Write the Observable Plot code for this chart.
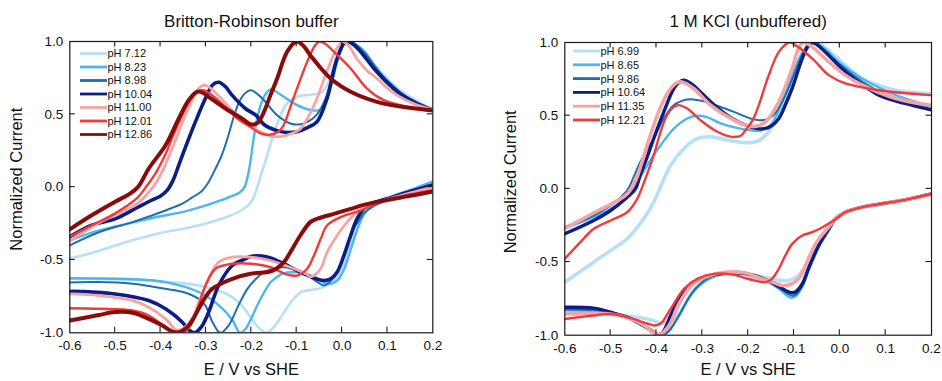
<!DOCTYPE html>
<html><head><meta charset="utf-8">
<script src="https://cdn.jsdelivr.net/npm/d3@7"></script>
<script src="https://cdn.jsdelivr.net/npm/@observablehq/plot@0.6"></script>
<style>
body{margin:0;background:#fff;font-family:"Liberation Sans",Arial,sans-serif;}
#wrap{display:flex;width:942px;height:381px;overflow:hidden;}
</style></head><body><div id="wrap"></div>
<script>
// ---------- shared ticks ----------
const xTicks = [-0.6, -0.5, -0.4, -0.3, -0.2, -0.1, 0.0, 0.1, 0.2];
const yTicks = [-1.0, -0.5, 0.0, 0.5, 1.0];
const xLabel = "E / V vs SHE";
const yLabel = "Normalized Current";

// ---------- Britton-Robinson buffer ----------
const brTitle = "Britton-Robinson buffer";
const brLabels = ["pH 7.12", "pH 8.23", "pH 8.98", "pH 10.04", "pH 11.00", "pH 12.01", "pH 12.86"];

const brUp712 = [[-0.6,-0.49],[-0.55,-0.45],[-0.5,-0.40],[-0.45,-0.355],[-0.4,-0.315],[-0.35,-0.285],[-0.3,-0.25],[-0.25,-0.2],[-0.22,-0.155],[-0.2,-0.1],[-0.19,-0.03],[-0.18,0.07],[-0.165,0.22],[-0.15,0.37],[-0.135,0.5],[-0.12,0.58],[-0.1,0.62],[-0.07,0.635],[-0.045,0.65],[-0.03,0.72],[-0.015,0.87],[0.0,0.96],[0.012,1.0],[0.025,0.99],[0.041,0.95],[0.077,0.82],[0.122,0.68],[0.166,0.59],[0.2,0.535]];
const brDown712 = [[0.2,0.035],[0.15,-0.02],[0.1,-0.07],[0.07,-0.11],[0.05,-0.17],[0.035,-0.24],[0.02,-0.38],[0.005,-0.52],[-0.01,-0.62],[-0.03,-0.67],[-0.055,-0.70],[-0.09,-0.72],[-0.11,-0.78],[-0.13,-0.87],[-0.15,-0.96],[-0.167,-1.0],[-0.185,-0.96],[-0.2,-0.9],[-0.228,-0.79],[-0.264,-0.72],[-0.316,-0.675],[-0.39,-0.65],[-0.46,-0.635],[-0.6,-0.628]];

const brUp823 = [[-0.6,-0.365],[-0.55,-0.31],[-0.5,-0.27],[-0.45,-0.235],[-0.4,-0.2],[-0.35,-0.17],[-0.3,-0.125],[-0.25,-0.07],[-0.225,-0.035],[-0.215,0.0],[-0.205,0.12],[-0.195,0.33],[-0.185,0.5],[-0.175,0.6],[-0.165,0.655],[-0.157,0.67],[-0.145,0.655],[-0.128,0.62],[-0.1,0.565],[-0.07,0.53],[-0.05,0.53],[-0.035,0.6],[-0.02,0.75],[-0.005,0.92],[0.01,1.0],[0.03,0.98],[0.05,0.93],[0.077,0.81],[0.1,0.73],[0.15,0.6],[0.2,0.53]];
const brDown823 = [[0.2,0.04],[0.15,-0.02],[0.1,-0.075],[0.07,-0.12],[0.05,-0.18],[0.035,-0.28],[0.02,-0.42],[0.005,-0.56],[-0.01,-0.64],[-0.03,-0.665],[-0.05,-0.64],[-0.075,-0.6],[-0.1,-0.585],[-0.128,-0.59],[-0.145,-0.62],[-0.158,-0.655],[-0.18,-0.77],[-0.2,-0.9],[-0.212,-0.97],[-0.225,-1.0],[-0.242,-0.91],[-0.272,-0.81],[-0.316,-0.72],[-0.39,-0.652],[-0.46,-0.632],[-0.6,-0.625]];

const brUp898 = [[-0.6,-0.40],[-0.536,-0.31],[-0.462,-0.24],[-0.389,-0.16],[-0.35,-0.11],[-0.33,-0.07],[-0.31,-0.03],[-0.295,0.03],[-0.28,0.12],[-0.265,0.22],[-0.25,0.36],[-0.238,0.49],[-0.226,0.59],[-0.212,0.65],[-0.2,0.665],[-0.185,0.635],[-0.172,0.597],[-0.143,0.494],[-0.114,0.437],[-0.095,0.43],[-0.075,0.45],[-0.055,0.5],[-0.035,0.62],[-0.015,0.85],[0.005,1.0],[0.025,0.99],[0.05,0.92],[0.08,0.8],[0.1,0.73],[0.15,0.6],[0.2,0.53]];
const brDown898 = [[0.2,0.02],[0.15,-0.03],[0.1,-0.09],[0.07,-0.13],[0.048,-0.18],[0.035,-0.24],[0.026,-0.28],[0.015,-0.37],[0.004,-0.47],[-0.01,-0.58],[-0.025,-0.645],[-0.04,-0.675],[-0.055,-0.65],[-0.07,-0.62],[-0.09,-0.58],[-0.11,-0.56],[-0.13,-0.55],[-0.15,-0.56],[-0.172,-0.585],[-0.19,-0.63],[-0.209,-0.7],[-0.228,-0.81],[-0.25,-0.95],[-0.268,-1.0],[-0.285,-0.93],[-0.301,-0.813],[-0.316,-0.767],[-0.35,-0.72],[-0.389,-0.698],[-0.462,-0.664],[-0.536,-0.652],[-0.6,-0.655]];

const brUp1004 = [[-0.6,-0.34],[-0.55,-0.26],[-0.5,-0.218],[-0.45,-0.138],[-0.42,-0.09],[-0.4,-0.06],[-0.385,-0.02],[-0.372,0.05],[-0.36,0.15],[-0.348,0.25],[-0.337,0.34],[-0.323,0.45],[-0.301,0.61],[-0.286,0.70],[-0.272,0.72],[-0.257,0.69],[-0.242,0.63],[-0.213,0.54],[-0.19,0.494],[-0.172,0.43],[-0.145,0.39],[-0.12,0.375],[-0.1,0.38],[-0.075,0.41],[-0.055,0.45],[-0.033,0.61],[-0.011,0.88],[0.008,1.0],[0.025,0.98],[0.041,0.93],[0.077,0.79],[0.122,0.655],[0.166,0.574],[0.2,0.53]];
const brDown1004 = [[0.2,0.015],[0.15,-0.03],[0.1,-0.08],[0.055,-0.126],[0.033,-0.217],[0.019,-0.332],[0.004,-0.47],[-0.011,-0.584],[-0.025,-0.629],[-0.04,-0.641],[-0.055,-0.63],[-0.092,-0.584],[-0.128,-0.526],[-0.165,-0.48],[-0.202,-0.476],[-0.213,-0.492],[-0.242,-0.538],[-0.272,-0.675],[-0.294,-0.859],[-0.31,-0.96],[-0.325,-1.0],[-0.338,-0.98],[-0.352,-0.927],[-0.389,-0.835],[-0.426,-0.778],[-0.5,-0.733],[-0.573,-0.717],[-0.6,-0.716]];

const brUp1100 = [[-0.6,-0.37],[-0.55,-0.27],[-0.5,-0.19],[-0.45,-0.11],[-0.43,-0.05],[-0.41,0.03],[-0.39,0.15],[-0.37,0.3],[-0.35,0.46],[-0.33,0.6],[-0.315,0.68],[-0.303,0.70],[-0.29,0.68],[-0.27,0.62],[-0.24,0.52],[-0.21,0.44],[-0.18,0.38],[-0.158,0.35],[-0.13,0.35],[-0.11,0.37],[-0.092,0.40],[-0.075,0.48],[-0.055,0.61],[-0.04,0.74],[-0.025,0.86],[-0.01,0.96],[0.002,1.0],[0.015,0.97],[0.033,0.88],[0.055,0.8],[0.077,0.746],[0.1,0.68],[0.122,0.63],[0.16,0.57],[0.2,0.53]];
const brDown1100 = [[0.2,0.0],[0.15,-0.04],[0.092,-0.09],[0.055,-0.13],[0.033,-0.172],[0.011,-0.24],[-0.011,-0.332],[-0.033,-0.447],[-0.047,-0.56],[-0.062,-0.607],[-0.07,-0.615],[-0.077,-0.6],[-0.114,-0.55],[-0.158,-0.504],[-0.202,-0.48],[-0.242,-0.48],[-0.272,-0.515],[-0.294,-0.629],[-0.316,-0.79],[-0.33,-0.904],[-0.352,-0.973],[-0.365,-0.98],[-0.389,-0.904],[-0.426,-0.824],[-0.462,-0.778],[-0.536,-0.744],[-0.6,-0.733]];

const brUp1201 = [[-0.6,-0.34],[-0.55,-0.26],[-0.5,-0.18],[-0.45,-0.07],[-0.43,0.01],[-0.41,0.1],[-0.39,0.22],[-0.37,0.37],[-0.35,0.51],[-0.335,0.6],[-0.318,0.66],[-0.305,0.665],[-0.29,0.64],[-0.26,0.56],[-0.23,0.47],[-0.2,0.41],[-0.18,0.37],[-0.16,0.36],[-0.14,0.38],[-0.128,0.43],[-0.114,0.55],[-0.099,0.68],[-0.077,0.86],[-0.062,0.96],[-0.05,1.0],[-0.035,0.98],[-0.018,0.93],[0.019,0.815],[0.055,0.677],[0.092,0.597],[0.144,0.551],[0.2,0.525]];
const brDown1201 = [[0.2,-0.02],[0.15,-0.05],[0.092,-0.09],[0.041,-0.16],[-0.003,-0.206],[-0.033,-0.263],[-0.047,-0.355],[-0.062,-0.47],[-0.077,-0.56],[-0.099,-0.607],[-0.121,-0.60],[-0.158,-0.55],[-0.2,-0.526],[-0.242,-0.526],[-0.279,-0.56],[-0.301,-0.675],[-0.316,-0.813],[-0.33,-0.927],[-0.345,-0.99],[-0.36,-1.0],[-0.375,-0.99],[-0.389,-0.962],[-0.426,-0.881],[-0.462,-0.847],[-0.536,-0.835],[-0.6,-0.831]];

const brUp1286 = [[-0.6,-0.29],[-0.55,-0.19],[-0.5,-0.10],[-0.47,-0.05],[-0.45,0.0],[-0.426,0.128],[-0.389,0.288],[-0.36,0.47],[-0.338,0.597],[-0.319,0.655],[-0.305,0.645],[-0.294,0.62],[-0.257,0.54],[-0.22,0.47],[-0.2,0.43],[-0.185,0.445],[-0.172,0.517],[-0.158,0.63],[-0.143,0.746],[-0.121,0.93],[-0.1,1.0],[-0.085,0.97],[-0.07,0.906],[-0.025,0.746],[0.019,0.655],[0.077,0.586],[0.136,0.55],[0.2,0.527]];
const brDown1286 = [[0.2,-0.03],[0.15,-0.06],[0.092,-0.092],[0.05,-0.12],[0.019,-0.149],[-0.018,-0.183],[-0.055,-0.217],[-0.07,-0.24],[-0.092,-0.332],[-0.114,-0.447],[-0.128,-0.515],[-0.145,-0.56],[-0.158,-0.579],[-0.202,-0.595],[-0.242,-0.629],[-0.265,-0.66],[-0.286,-0.698],[-0.3,-0.75],[-0.316,-0.835],[-0.338,-0.95],[-0.36,-0.996],[-0.375,-0.99],[-0.396,-0.95],[-0.426,-0.904],[-0.462,-0.862],[-0.5,-0.858],[-0.536,-0.878],[-0.6,-0.916]];

// ---------- 1 M KCl ----------
const kclTitle = "1 M KCl (unbuffered)";
const kclLabels = ["pH 6.99", "pH 8.65", "pH 9.86", "pH 10.64", "pH 11.35", "pH 12.21"];

const kUp699 = [[-0.6,-0.638],[-0.537,-0.501],[-0.5,-0.421],[-0.464,-0.341],[-0.428,-0.205],[-0.406,-0.091],[-0.393,0.0],[-0.369,0.162],[-0.34,0.276],[-0.311,0.344],[-0.282,0.356],[-0.246,0.333],[-0.206,0.315],[-0.18,0.325],[-0.162,0.367],[-0.133,0.503],[-0.104,0.731],[-0.082,0.914],[-0.065,0.98],[-0.05,1.0],[-0.03,0.96],[0.012,0.845],[0.049,0.754],[0.085,0.708],[0.122,0.674],[0.2,0.65]];
const kDown699 = [[0.2,-0.035],[0.15,-0.07],[0.085,-0.105],[0.049,-0.125],[0.012,-0.16],[-0.01,-0.205],[-0.03,-0.28],[-0.05,-0.38],[-0.07,-0.5],[-0.09,-0.592],[-0.111,-0.626],[-0.14,-0.62],[-0.17,-0.6],[-0.206,-0.578],[-0.26,-0.58],[-0.29,-0.615],[-0.32,-0.7],[-0.35,-0.85],[-0.372,-0.91],[-0.391,-0.915],[-0.42,-0.889],[-0.464,-0.87],[-0.537,-0.84],[-0.6,-0.831]];

const kUp865 = [[-0.6,-0.27],[-0.537,-0.194],[-0.5,-0.137],[-0.464,-0.06],[-0.45,0.0],[-0.42,0.162],[-0.391,0.298],[-0.362,0.412],[-0.333,0.481],[-0.311,0.499],[-0.29,0.49],[-0.26,0.447],[-0.23,0.42],[-0.195,0.40],[-0.17,0.40],[-0.15,0.44],[-0.133,0.54],[-0.104,0.78],[-0.082,0.93],[-0.065,0.99],[-0.055,1.0],[-0.03,0.95],[0.0,0.86],[0.05,0.75],[0.1,0.67],[0.15,0.61],[0.2,0.565]];
const kDown865 = [[0.2,-0.035],[0.15,-0.07],[0.085,-0.105],[0.049,-0.125],[0.012,-0.16],[-0.01,-0.21],[-0.024,-0.285],[-0.046,-0.40],[-0.068,-0.556],[-0.082,-0.67],[-0.097,-0.735],[-0.105,-0.745],[-0.115,-0.73],[-0.126,-0.70],[-0.155,-0.64],[-0.206,-0.585],[-0.26,-0.585],[-0.297,-0.638],[-0.326,-0.729],[-0.355,-0.889],[-0.375,-0.975],[-0.39,-1.0],[-0.405,-0.985],[-0.428,-0.94],[-0.464,-0.88],[-0.5,-0.85],[-0.537,-0.835],[-0.6,-0.828]];

const kUp986 = [[-0.6,-0.26],[-0.537,-0.182],[-0.5,-0.114],[-0.464,-0.01],[-0.45,0.08],[-0.435,0.185],[-0.406,0.344],[-0.384,0.481],[-0.362,0.572],[-0.34,0.606],[-0.326,0.613],[-0.3,0.60],[-0.282,0.583],[-0.231,0.526],[-0.195,0.481],[-0.175,0.468],[-0.155,0.48],[-0.14,0.52],[-0.12,0.63],[-0.1,0.78],[-0.08,0.93],[-0.065,1.0],[-0.04,0.96],[0.0,0.85],[0.05,0.73],[0.1,0.645],[0.15,0.595],[0.2,0.56]];
const kDown986 = [[0.2,-0.035],[0.15,-0.07],[0.085,-0.105],[0.049,-0.125],[0.012,-0.16],[-0.01,-0.207],[-0.024,-0.28],[-0.046,-0.395],[-0.068,-0.55],[-0.082,-0.665],[-0.097,-0.725],[-0.104,-0.73],[-0.115,-0.715],[-0.126,-0.69],[-0.155,-0.635],[-0.206,-0.58],[-0.26,-0.58],[-0.29,-0.615],[-0.32,-0.7],[-0.35,-0.86],[-0.372,-0.97],[-0.388,-1.0],[-0.405,-0.985],[-0.428,-0.935],[-0.464,-0.875],[-0.5,-0.845],[-0.537,-0.83],[-0.6,-0.825]];

const kUp1064 = [[-0.6,-0.307],[-0.537,-0.216],[-0.5,-0.148],[-0.464,-0.057],[-0.446,0.0],[-0.435,0.1],[-0.42,0.22],[-0.406,0.344],[-0.384,0.526],[-0.362,0.686],[-0.35,0.73],[-0.34,0.742],[-0.325,0.72],[-0.3,0.65],[-0.282,0.595],[-0.246,0.503],[-0.22,0.455],[-0.195,0.424],[-0.175,0.41],[-0.155,0.42],[-0.133,0.481],[-0.118,0.58],[-0.104,0.686],[-0.082,0.89],[-0.068,0.98],[-0.058,1.0],[-0.04,0.96],[0.012,0.80],[0.05,0.71],[0.085,0.64],[0.14,0.585],[0.2,0.54]];
const kDown1064 = [[0.2,-0.035],[0.15,-0.07],[0.085,-0.105],[0.049,-0.125],[0.012,-0.16],[-0.01,-0.205],[-0.024,-0.27],[-0.046,-0.385],[-0.068,-0.54],[-0.082,-0.65],[-0.097,-0.705],[-0.104,-0.71],[-0.115,-0.7],[-0.126,-0.68],[-0.155,-0.63],[-0.206,-0.578],[-0.231,-0.575],[-0.282,-0.592],[-0.319,-0.638],[-0.348,-0.729],[-0.369,-0.866],[-0.385,-0.975],[-0.395,-1.0],[-0.406,-0.98],[-0.428,-0.934],[-0.464,-0.877],[-0.5,-0.843],[-0.537,-0.815],[-0.6,-0.809]];

const kUp1135 = [[-0.6,-0.27],[-0.537,-0.165],[-0.5,-0.105],[-0.464,-0.035],[-0.445,0.06],[-0.43,0.2],[-0.413,0.37],[-0.391,0.56],[-0.369,0.686],[-0.355,0.725],[-0.345,0.73],[-0.319,0.686],[-0.282,0.572],[-0.231,0.469],[-0.2,0.43],[-0.18,0.43],[-0.162,0.458],[-0.133,0.595],[-0.104,0.822],[-0.09,0.959],[-0.08,1.0],[-0.06,0.97],[-0.024,0.868],[0.012,0.777],[0.049,0.708],[0.122,0.617],[0.2,0.57]];
const kDown1135 = [[0.2,-0.035],[0.15,-0.07],[0.085,-0.105],[0.049,-0.125],[0.012,-0.16],[-0.01,-0.205],[-0.024,-0.26],[-0.053,-0.376],[-0.075,-0.524],[-0.09,-0.615],[-0.11,-0.655],[-0.126,-0.66],[-0.14,-0.645],[-0.17,-0.615],[-0.206,-0.575],[-0.25,-0.57],[-0.29,-0.6],[-0.32,-0.65],[-0.35,-0.78],[-0.372,-0.93],[-0.39,-0.99],[-0.405,-0.985],[-0.428,-0.93],[-0.464,-0.88],[-0.5,-0.855],[-0.537,-0.85],[-0.6,-0.854]];

const kUp1221 = [[-0.6,-0.478],[-0.566,-0.364],[-0.537,-0.273],[-0.5,-0.216],[-0.464,-0.16],[-0.442,-0.068],[-0.43,0.02],[-0.406,0.23],[-0.391,0.39],[-0.377,0.503],[-0.362,0.56],[-0.352,0.572],[-0.333,0.549],[-0.304,0.469],[-0.267,0.39],[-0.235,0.355],[-0.215,0.365],[-0.206,0.40],[-0.19,0.47],[-0.177,0.57],[-0.155,0.777],[-0.133,0.936],[-0.11,1.0],[-0.097,0.982],[-0.06,0.89],[-0.024,0.777],[0.012,0.72],[0.085,0.674],[0.2,0.64]];
const kDown1221 = [[0.2,-0.035],[0.15,-0.07],[0.085,-0.105],[0.049,-0.125],[0.012,-0.16],[-0.01,-0.21],[-0.038,-0.262],[-0.06,-0.296],[-0.082,-0.319],[-0.104,-0.376],[-0.119,-0.456],[-0.133,-0.546],[-0.148,-0.615],[-0.162,-0.638],[-0.18,-0.63],[-0.206,-0.61],[-0.231,-0.588],[-0.275,-0.581],[-0.311,-0.615],[-0.34,-0.683],[-0.369,-0.82],[-0.391,-0.92],[-0.405,-0.934],[-0.42,-0.92],[-0.464,-0.877],[-0.5,-0.855],[-0.537,-0.865],[-0.6,-0.889]];

// ---------- styles ----------
const brColors = ["#b5e0f7", "#4cb6ee", "#1f6fae", "#0b1e86", "#f7a3a3", "#f23a3a", "#8a0b0b"];
const brWidths = [2.6, 2.4, 2.0, 3.6, 2.8, 2.4, 4.0];
const kColors = ["#b5e0f7", "#4cb6ee", "#1f6fae", "#0b1e86", "#f7a3a3", "#f23a3a"];
const kWidths = [3.6, 2.4, 2.0, 3.4, 3.6, 2.4];

const brSeries = [[brUp712, brDown712],[brUp823, brDown823],[brUp898, brDown898],[brUp1004, brDown1004],[brUp1100, brDown1100],[brUp1201, brDown1201],[brUp1286, brDown1286]];
const kSeries = [[kUp699, kDown699],[kUp865, kDown865],[kUp986, kDown986],[kUp1064, kDown1064],[kUp1135, kDown1135],[kUp1221, kDown1221]];

const FONT = '"Liberation Sans", Arial, Helvetica, sans-serif';
const fmt = v => v.toFixed(1);

function panel(cfg) {
  const marks = [];
  cfg.series.forEach(([up, down], i) => {
    const rows = up.map(([E, I]) => ({E, I, b: "up"})).concat(down.map(([E, I]) => ({E, I, b: "down"})));
    marks.push(Plot.line(rows, {x: "E", y: "I", z: "b", stroke: cfg.colors[i], strokeWidth: cfg.widths[i], curve: "catmull-rom", clip: true, strokeLinejoin: "round"}));
  });
  marks.push(Plot.frame({stroke: "#1a1a1a", strokeWidth: 1.2}));
  marks.push(Plot.axisX({ticks: xTicks, tickFormat: fmt, tickSize: 0, tickPadding: 8, fontSize: 13.5, label: null}));
  marks.push(Plot.axisY({ticks: yTicks, tickFormat: fmt, tickSize: 0, tickPadding: 6.5, fontSize: 13.5, label: null}));
  marks.push(Plot.text([cfg.title], {text: d => d, frameAnchor: "top", textAnchor: "middle", lineAnchor: "middle", dy: cfg.titleDy, fontSize: 17, fill: "#111"}));
  marks.push(Plot.text([xLabel], {text: d => d, frameAnchor: "bottom", textAnchor: "middle", lineAnchor: "middle", dy: cfg.xlabDy, fontSize: 16.5, fill: "#111"}));
  marks.push(Plot.text([yLabel], {text: d => d, frameAnchor: "left", textAnchor: "middle", lineAnchor: "middle", rotate: -90, dx: cfg.ylabDx, dy: cfg.ylabDy, fontSize: 16.5, fill: "#111"}));

  const svg = Plot.plot({
    width: cfg.width, height: 381,
    marginLeft: cfg.ml, marginRight: cfg.mr, marginTop: cfg.mt, marginBottom: cfg.mb,
    x: {domain: [-0.6, 0.2]},
    y: {domain: [-1, 1]},
    style: {fontFamily: FONT, fontSize: "13.5px", color: "#111", background: "white", overflow: "visible"},
    marks
  });

  // inward ticks on all four sides, placed through the plot's own scales
  const xs = svg.scale("x"), ys = svg.scale("y");
  const L = cfg.ml, R = cfg.width - cfg.mr, T = cfg.mt, B = 381 - cfg.mb, k = 5.5;
  const g = d3.select(svg).append("g").attr("stroke", "#1a1a1a").attr("stroke-width", 1.1);
  xTicks.slice(1, -1).forEach(v => {
    const px = xs.apply(v);
    g.append("line").attr("x1", px).attr("x2", px).attr("y1", B).attr("y2", B - k);
    g.append("line").attr("x1", px).attr("x2", px).attr("y1", T).attr("y2", T + k);
  });
  yTicks.slice(1, -1).forEach(v => {
    const py = ys.apply(v);
    g.append("line").attr("y1", py).attr("y2", py).attr("x1", L).attr("x2", L + k);
    g.append("line").attr("y1", py).attr("y2", py).attr("x1", R).attr("x2", R - k);
  });

  // legend
  const lg = d3.select(svg).append("g").attr("font-family", FONT).attr("font-size", 11).attr("text-anchor", "start");
  cfg.labels.forEach((lab, i) => {
    const y = cfg.legY + i * cfg.legStep;
    lg.append("line").attr("x1", cfg.legX).attr("x2", cfg.legX + 27).attr("y1", y).attr("y2", y)
      .attr("stroke", cfg.colors[i]).attr("stroke-width", 2.8);
    lg.append("text").attr("x", cfg.legX + 27.5).attr("y", y).attr("dy", "0.36em").attr("fill", "#111")
      .attr("text-anchor", "start").style("text-anchor", "start").text(lab);
  });
  return svg;
}

const wrap = document.getElementById("wrap");
wrap.appendChild(panel({
  series: brSeries, colors: brColors, widths: brWidths, labels: brLabels, title: brTitle,
  width: 471, ml: 69.3, mr: 38.7, mt: 41, mb: 48.7,
  titleDy: -20, xlabDy: 37, ylabDx: -53, ylabDy: -8,
  legX: 80, legY: 53.5, legStep: 13.5
}));
wrap.appendChild(panel({
  series: kSeries, colors: kColors, widths: kWidths, labels: kclLabels, title: kclTitle,
  width: 471, ml: 93.3, mr: 11, mt: 42, mb: 46.3,
  titleDy: -21, xlabDy: 35, ylabDx: -54, ylabDy: -7,
  legX: 102, legY: 51, legStep: 13.8
}));
</script></body></html>
